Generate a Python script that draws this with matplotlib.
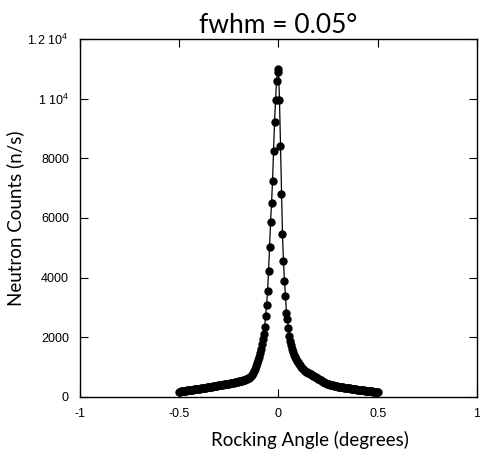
import numpy as np
import matplotlib
matplotlib.use('Agg')
import matplotlib.pyplot as plt

plt.rcParams['mathtext.fontset'] = 'custom'
plt.rcParams['mathtext.rm'] = 'Liberation Sans'
plt.rcParams['mathtext.it'] = 'Liberation Sans'

# rocking scan: -0.5 .. 0.5 deg, step 0.005 deg
scan_start = -0.5
scan_step = 0.005

# counts for angles -0.500 .. 0.000
counts_left = [
    172, 178, 184, 190, 196, 202, 208, 213, 218, 223,
    228, 232, 237, 242, 247, 252, 257, 262, 267, 272,
    277, 282, 288, 293, 298, 304, 310, 315, 320, 326,
    332, 338, 344, 350, 356, 362, 368, 374, 380, 386,
    392, 398, 404, 410, 416, 422, 428, 434, 440, 446,
    452, 458, 464, 471, 478, 485, 492, 500, 508, 516,
    524, 532, 540, 548, 556, 566, 578, 590, 605, 625,
    650, 675, 710, 750, 800, 860, 940, 1030, 1130, 1240,
    1350, 1480, 1620, 1780, 1950, 2100, 2360, 2710, 3080, 3560,
    4230, 5030, 5870, 6500, 7230, 8250, 9230, 9950, 10600, 10900,
    10990,
]
# counts for angles 0.005 .. 0.500
counts_right = [
    9950, 8400, 6800, 5460, 4550, 3900, 3400, 2800, 2610, 2310,
    2050, 1880, 1740, 1610, 1500, 1410, 1330, 1260, 1200, 1160,
    1110, 1060, 1010, 970, 930, 900, 870, 850, 830, 810,
    795, 775, 755, 735, 715, 695, 675, 655, 635, 615,
    595, 575, 555, 530, 510, 495, 480, 465, 450, 438,
    426, 415, 405, 396, 388, 380, 372, 364, 357, 350,
    344, 338, 332, 326, 320, 315, 310, 305, 300, 295,
    290, 285, 280, 275, 270, 265, 260, 255, 250, 245,
    240, 235, 230, 226, 222, 218, 214, 210, 206, 202,
    198, 194, 190, 186, 183, 180, 178, 176, 174, 172,
]

counts = np.array(counts_left + counts_right)
angles = scan_start + scan_step * np.arange(len(counts))

x_ticks = [-1, -0.5, 0, 0.5, 1]
x_tick_labels = ['-1', '-0.5', '0', '0.5', '1']
y_ticks = [0, 2000, 4000, 6000, 8000, 10000, 12000]
y_tick_labels = ['0', '2000', '4000', '6000', '8000', r'1 10$^4$', r'1.2 10$^4$']

fig = plt.figure(figsize=(4.81, 4.55), dpi=100)
ax = fig.add_axes([0.1663, 0.1275, 0.8254, 0.7868])

ax.plot(angles, counts, color='black', linewidth=0.9, marker='o',
        markersize=5, markerfacecolor='black', markeredgecolor='black')

ax.set_xlim(-1, 1)
ax.set_ylim(0, 12000)
ax.set_xticks(x_ticks)
ax.set_xticklabels(x_tick_labels, fontfamily='Liberation Sans', fontsize=9)
ax.set_yticks(y_ticks)
ax.set_yticklabels(y_tick_labels, fontfamily='Liberation Sans', fontsize=9)
ax.tick_params(direction='in', length=6, width=0.8, top=True, right=True, pad=8)

for s in ax.spines.values():
    s.set_linewidth(1.0)

ax.set_xlabel('Rocking Angle (degrees)', fontfamily='Lato', fontsize=13.5)
ax.xaxis.set_label_coords(0.58, -0.095)
ax.set_ylabel('Neutron Counts (n/s)', fontfamily='Lato', fontsize=13.5, labelpad=2.5)
ax.set_title('fwhm = 0.05°', fontfamily='Lato', fontsize=19, pad=4)

fig.savefig('out.png', dpi=100)
